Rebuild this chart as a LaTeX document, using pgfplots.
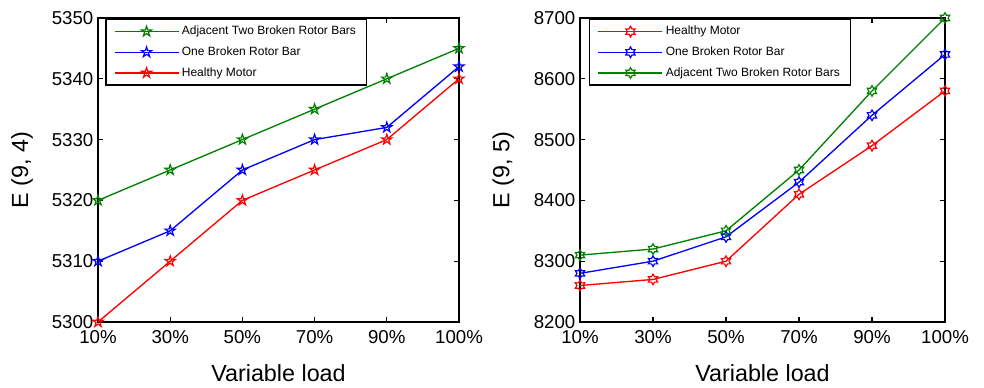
\documentclass[border=0pt]{standalone}
\usepackage{pgfplots}
\pgfplotsset{compat=1.18}
\usepackage{fontspec}
\setmainfont{Liberation Sans}
\definecolor{mgreen}{rgb}{0,0.5,0}
\pgfdeclareplotmark{pentagram}{%
 \pgfpathmoveto{\pgfpointpolar{90}{\pgfplotmarksize}}%
 \pgfpathlineto{\pgfpointpolar{126}{0.382\pgfplotmarksize}}%
 \pgfpathlineto{\pgfpointpolar{162}{\pgfplotmarksize}}%
 \pgfpathlineto{\pgfpointpolar{198}{0.382\pgfplotmarksize}}%
 \pgfpathlineto{\pgfpointpolar{234}{\pgfplotmarksize}}%
 \pgfpathlineto{\pgfpointpolar{270}{0.382\pgfplotmarksize}}%
 \pgfpathlineto{\pgfpointpolar{306}{\pgfplotmarksize}}%
 \pgfpathlineto{\pgfpointpolar{342}{0.382\pgfplotmarksize}}%
 \pgfpathlineto{\pgfpointpolar{18}{\pgfplotmarksize}}%
 \pgfpathlineto{\pgfpointpolar{54}{0.382\pgfplotmarksize}}%
 \pgfpathclose\pgfusepathqstroke}
\pgfdeclareplotmark{hexagram}{%
 \pgfpathmoveto{\pgfpointpolar{90}{\pgfplotmarksize}}%
 \pgfpathlineto{\pgfpointpolar{120}{0.577\pgfplotmarksize}}%
 \pgfpathlineto{\pgfpointpolar{150}{\pgfplotmarksize}}%
 \pgfpathlineto{\pgfpointpolar{180}{0.577\pgfplotmarksize}}%
 \pgfpathlineto{\pgfpointpolar{210}{\pgfplotmarksize}}%
 \pgfpathlineto{\pgfpointpolar{240}{0.577\pgfplotmarksize}}%
 \pgfpathlineto{\pgfpointpolar{270}{\pgfplotmarksize}}%
 \pgfpathlineto{\pgfpointpolar{300}{0.577\pgfplotmarksize}}%
 \pgfpathlineto{\pgfpointpolar{330}{\pgfplotmarksize}}%
 \pgfpathlineto{\pgfpointpolar{0}{0.577\pgfplotmarksize}}%
 \pgfpathlineto{\pgfpointpolar{30}{\pgfplotmarksize}}%
 \pgfpathlineto{\pgfpointpolar{60}{0.577\pgfplotmarksize}}%
 \pgfpathclose\pgfusepathqstroke}
\pgfplotsset{
 myaxis/.style={
  scale only axis, height=228pt,
  xmin=0, xmax=5, xtick={0,...,5},
  xticklabels={10\%,30\%,50\%,70\%,90\%,100\%},
  tick align=inside, major tick length=3.75pt,
  axis line style={line width=1.2pt},
  every tick/.style={black, line width=0.9pt},
  /pgf/number format/assume math mode=true,
  /pgf/number format/1000 sep={},
  tick label style={font=\fontsize{14}{16}\selectfont},
  xticklabel style={yshift=-3pt},
  label style={font=\fontsize{17.5}{20}\selectfont},
  xlabel={Variable load},
  xlabel style={at={(axis description cs:0.5,-0.168)}, anchor=center},
  ylabel style={at={(axis description cs:-0.21,0.5)}, anchor=center},
  legend style={draw=black, line width=1pt, anchor=north west,
    font=\fontsize{9}{10}\selectfont, inner xsep=6pt, inner ysep=3pt,
    row sep=3.5pt},
  legend cell align=left,
  legend image code/.code={\draw[line width=1pt, mark repeat=2,mark phase=2] plot coordinates {(0pt,0pt)(24pt,0pt)(48pt,0pt)};},
  mark size=4pt,
 },
 pl/.style={line width=1pt, mark options={solid, line width=0.9pt}},
}
\begin{document}
\begin{tikzpicture}
\useasboundingbox (0,0) rectangle (738pt,291pt);
\begin{axis}[myaxis, at={(73.5pt,49.5pt)}, anchor=south west, width=270.75pt,
  ymin=5300, ymax=5350, ytick={5300,5310,...,5350}, ylabel={E (9, 4)},
  legend style={at={(axis description cs:0.02,0.997)}}]
\addplot[pl, mgreen, mark=pentagram] coordinates {(0,5320)(1,5325)(2,5330)(3,5335)(4,5340)(5,5345)};
\addlegendentry{Adjacent Two Broken Rotor Bars}
\addplot[pl, blue, mark=pentagram] coordinates {(0,5310)(1,5315)(2,5325)(3,5330)(4,5332)(5,5342)};
\addlegendentry{One Broken Rotor Bar}
\addplot[pl, red, mark=pentagram] coordinates {(0,5300)(1,5310)(2,5320)(3,5325)(4,5330)(5,5340)};
\addlegendentry{Healthy Motor}
\end{axis}
\begin{axis}[myaxis, at={(435pt,49.5pt)}, anchor=south west, width=273.75pt,
  ymin=8200, ymax=8700, ytick={8200,8300,...,8700}, ylabel={E (9, 5)},
  legend style={at={(axis description cs:0.025,0.997)}}]
\addplot[pl, red, mark=hexagram] coordinates {(0,8260)(1,8270)(2,8300)(3,8410)(4,8490)(5,8580)};
\addlegendentry{Healthy Motor}
\addplot[pl, blue, mark=hexagram] coordinates {(0,8280)(1,8300)(2,8340)(3,8430)(4,8540)(5,8640)};
\addlegendentry{One Broken Rotor Bar}
\addplot[pl, mgreen, mark=hexagram] coordinates {(0,8310)(1,8320)(2,8350)(3,8450)(4,8580)(5,8700)};
\addlegendentry{Adjacent Two Broken Rotor Bars}
\end{axis}
\end{tikzpicture}
\end{document}
